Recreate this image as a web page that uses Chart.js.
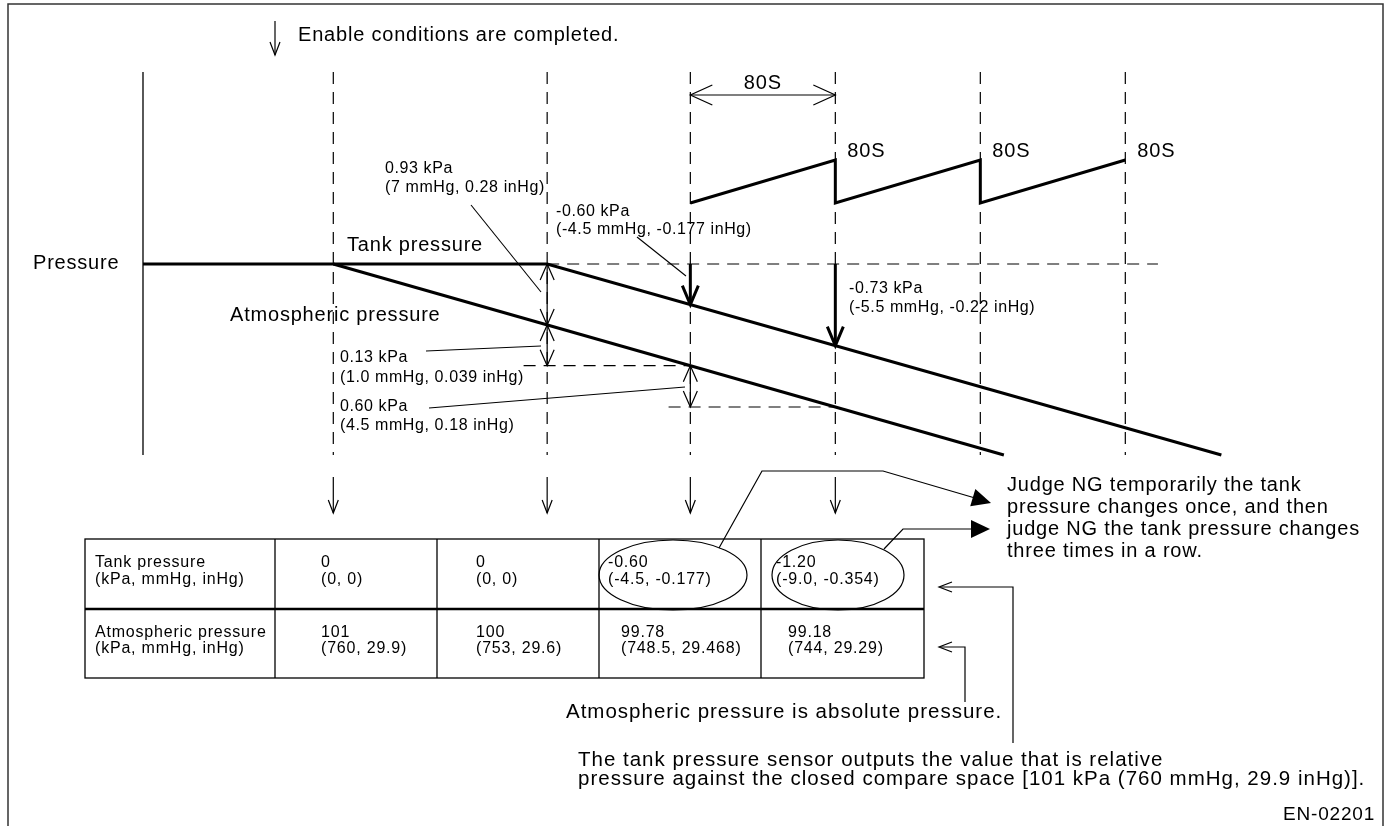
<!DOCTYPE html>
<html>
<head>
<meta charset="utf-8">
<script src="https://cdn.jsdelivr.net/npm/chart.js@4.4.1/dist/chart.umd.min.js"></script>
<style>
  html, body { margin: 0; padding: 0; background: #fff; }
  canvas { display: block; }
</style>
</head>
<body>
<canvas id="diagram" width="1393" height="826"></canvas>
<script>
// x = time (s), y = pressure in diagram units (0 = starting pressure)
const eventTimes = [105, 223, 302, 382, 462, 542];
const tankTimes = [0, 223, 595];
const tankLevels = [0, 0, -19.1];
const atmTimes = [105, 475];
const atmLevels = [0, -19.1];
const sawTimes = [302, 382, 382, 462, 462, 542];
const sawLevels = [6.1, 10.4, 6.1, 10.4, 6.1, 10.4];
const guideTop = 19.2;
const guideBottom = -19.1;
const refLevelEnd = 560;

// table
const rowLabels = ['Tank pressure', 'Atmospheric pressure'];
const unitLabel = '(kPa, mmHg, inHg)';
const tankKpa = ['0', '0', '-0.60', '-1.20'];
const tankOther = ['(0, 0)', '(0, 0)', '(-4.5, -0.177)', '(-9.0, -0.354)'];
const atmKpa = ['101', '100', '99.78', '99.18'];
const atmOther = ['(760, 29.9)', '(753, 29.6)', '(748.5, 29.468)', '(744, 29.29)'];

const FONT = '"Liberation Sans", Arial, Helvetica, sans-serif';

function levelAt(times, levels, t) {
    for (let i = 0; i < times.length - 1; i++) {
        if (t >= times[i] && t <= times[i + 1]) {
            const f = (t - times[i]) / (times[i + 1] - times[i]);
            return levels[i] + f * (levels[i + 1] - levels[i]);
        }
    }
    return levels[levels.length - 1];
}
const tankAt = t => levelAt(tankTimes, tankLevels, t);
const atmAt = t => levelAt(atmTimes, atmLevels, t);

const pts = (ts, vs) => ts.map((t, i) => ({ x: t, y: vs[i] }));
const solid = (data, w) => ({
    data, borderColor: '#000', borderWidth: w, showLine: true, pointRadius: 0,
    borderJoinStyle: 'miter', borderCapStyle: 'butt', tension: 0
});
const dashed = data => ({
    data, borderColor: '#000', borderWidth: 1.2, borderDash: [12, 8], showLine: true, pointRadius: 0
});

const datasets = [
    solid(pts([0, 0], [guideTop, guideBottom]), 1.3),
    ...eventTimes.map(t => dashed(pts([t, t], [guideTop, guideBottom]))),
    dashed(pts([223, refLevelEnd], [0, 0])),
    dashed(pts([210, 302], [atmAt(302), atmAt(302)])),
    dashed(pts([290, 382], [atmAt(382), atmAt(382)])),
    solid(pts(atmTimes, atmLevels), 3),
    solid(pts(tankTimes, tankLevels), 3),
    solid(pts(sawTimes, sawLevels), 3)
];

// drawing helpers
function line(ctx, x1, y1, x2, y2, w) {
    ctx.lineWidth = w || 1.2;
    ctx.beginPath();
    ctx.moveTo(x1, y1);
    ctx.lineTo(x2, y2);
    ctx.stroke();
}
function poly(ctx, p, w) {
    ctx.lineWidth = w || 1.2;
    ctx.beginPath();
    ctx.moveTo(p[0][0], p[0][1]);
    for (let i = 1; i < p.length; i++) ctx.lineTo(p[i][0], p[i][1]);
    ctx.stroke();
}
// open V head at (x, y) pointing along angle a
function head(ctx, x, y, a, len, spread, w) {
    const back = a + Math.PI;
    const h = Math.atan2(spread, len);
    const l = Math.hypot(len, spread);
    ctx.lineWidth = w || 1.2;
    ctx.beginPath();
    ctx.moveTo(x + l * Math.cos(back - h), y + l * Math.sin(back - h));
    ctx.lineTo(x, y);
    ctx.lineTo(x + l * Math.cos(back + h), y + l * Math.sin(back + h));
    ctx.stroke();
}
function solidHead(ctx, x, y, a, len, spread) {
    const back = a + Math.PI;
    const h = Math.atan2(spread, len);
    const l = Math.hypot(len, spread);
    ctx.beginPath();
    ctx.moveTo(x, y);
    ctx.lineTo(x + l * Math.cos(back - h), y + l * Math.sin(back - h));
    ctx.lineTo(x + l * Math.cos(back + h), y + l * Math.sin(back + h));
    ctx.closePath();
    ctx.fill();
}
function arrow(ctx, x1, y1, x2, y2, len, spread, w) {
    line(ctx, x1, y1, x2, y2, w);
    head(ctx, x2, y2, Math.atan2(y2 - y1, x2 - x1), len, spread, w);
}
function dblArrow(ctx, x1, y1, x2, y2, len, spread, w) {
    line(ctx, x1, y1, x2, y2, w);
    const a = Math.atan2(y2 - y1, x2 - x1);
    head(ctx, x2, y2, a, len, spread, w);
    head(ctx, x1, y1, a + Math.PI, len, spread, w);
}
function text(ctx, s, x, y, size, align, spacing) {
    ctx.font = size + 'px ' + FONT;
    ctx.textAlign = align || 'left';
    ctx.textBaseline = 'middle';
    if ('letterSpacing' in ctx) ctx.letterSpacing = (spacing === undefined ? 0.8 : spacing) + 'px';
    ctx.fillText(s, x, y);
}

const annotations = {
    id: 'annotations',
    afterDraw(chart) {
        const ctx = chart.ctx;
        const X = t => chart.scales.x.getPixelForValue(t);
        const Y = v => chart.scales.y.getPixelForValue(v);
        ctx.save();
        ctx.fillStyle = '#000';
        ctx.lineCap = 'butt';

        // frame
        ctx.strokeStyle = '#333';
        poly(ctx, [[8, 826], [8, 4], [1383, 4], [1383, 826]], 1.5);
        ctx.strokeStyle = '#000';

        // enable marker
        arrow(ctx, 275, 21, 275, 55, 13, 5, 1.2);
        text(ctx, 'Enable conditions are completed.', 298, 35, 20);

        // 80 s span
        const yDim = 95;
        dblArrow(ctx, X(eventTimes[2]), yDim, X(eventTimes[3]), yDim, 22, 10, 1.2);
        text(ctx, '80S', (X(eventTimes[2]) + X(eventTimes[3])) / 2, 83, 20, 'center');
        for (let i = 1; i < sawTimes.length; i += 2) {
            text(ctx, '80S', X(sawTimes[i]) + 12, Y(sawLevels[i]) - 9, 20);
        }

        // tank pressure drops
        [eventTimes[2], eventTimes[3]].forEach(t => {
            arrow(ctx, X(t), Y(0), X(t), Y(tankAt(t)), 19, 8, 3);
        });

        // gaps between tank and atmospheric level
        dblArrow(ctx, X(eventTimes[1]), Y(0), X(eventTimes[1]), Y(atmAt(eventTimes[1])), 16, 7, 1.2);
        dblArrow(ctx, X(eventTimes[1]), Y(atmAt(eventTimes[1])), X(eventTimes[1]), Y(atmAt(eventTimes[2])), 16, 7, 1.2);
        dblArrow(ctx, X(eventTimes[2]), Y(atmAt(eventTimes[2])), X(eventTimes[2]), Y(atmAt(eventTimes[3])), 16, 7, 1.2);

        // down arrows to the table
        eventTimes.slice(0, 4).forEach(t => arrow(ctx, X(t), 477, X(t), 513, 13, 5, 1.2));

        // labels
        text(ctx, 'Pressure', 33, 263, 20);
        text(ctx, 'Tank pressure', 347, 245, 20);
        text(ctx, 'Atmospheric pressure', 230, 315, 20);

        const sm = 16, ss = 0.6;
        text(ctx, '0.93 kPa', 385, 169, sm, 'left', ss);
        text(ctx, '(7 mmHg, 0.28 inHg)', 385, 188, sm, 'left', ss);
        line(ctx, 471, 205, 541, 292, 1.1);

        text(ctx, '-0.60 kPa', 556, 212, sm, 'left', ss);
        text(ctx, '(-4.5 mmHg, -0.177 inHg)', 556, 230, sm, 'left', ss);
        line(ctx, 637, 237, 686, 276, 1.1);

        text(ctx, '-0.73 kPa', 849, 289, sm, 'left', ss);
        text(ctx, '(-5.5 mmHg, -0.22 inHg)', 849, 308, sm, 'left', ss);

        text(ctx, '0.13 kPa', 340, 358, sm, 'left', ss);
        text(ctx, '(1.0 mmHg, 0.039 inHg)', 340, 378, sm, 'left', ss);
        line(ctx, 426, 351, 541, 346, 1.1);

        text(ctx, '0.60 kPa', 340, 407, sm, 'left', ss);
        text(ctx, '(4.5 mmHg, 0.18 inHg)', 340, 426, sm, 'left', ss);
        line(ctx, 429, 408, 685, 387, 1.1);

        // table
        const tL = 85, tR = 924, tT = 539, tM = 609, tB = 678;
        const cols = [275, 437, 599, 761];
        ctx.lineWidth = 1.3;
        ctx.strokeRect(tL, tT, tR - tL, tB - tT);
        cols.forEach(c => line(ctx, c, tT, c, tB, 1.3));
        line(ctx, tL, tM, tR, tM, 2.6);

        const ts = 16;
        text(ctx, rowLabels[0], 95, 563, ts);
        text(ctx, unitLabel, 95, 580, ts);
        text(ctx, rowLabels[1], 95, 633, ts);
        text(ctx, unitLabel, 95, 649, ts);
        const row1X = [321, 476, 608, 776];
        const row2X = [321, 476, 621, 788];
        tankKpa.forEach((s, i) => {
            text(ctx, s, row1X[i], 563, ts);
            text(ctx, tankOther[i], row1X[i], 580, ts);
        });
        atmKpa.forEach((s, i) => {
            text(ctx, s, row2X[i], 633, ts);
            text(ctx, atmOther[i], row2X[i], 649, ts);
        });

        // circled values
        ctx.lineWidth = 1.2;
        ctx.beginPath();
        ctx.ellipse(673, 575, 74, 35, 0, 0, Math.PI * 2);
        ctx.stroke();
        ctx.beginPath();
        ctx.ellipse(838, 575, 66, 35, 0, 0, Math.PI * 2);
        ctx.stroke();

        // judge leaders
        poly(ctx, [[719, 548], [762, 471], [883, 471], [975, 498]], 1.2);
        solidHead(ctx, 991, 503, Math.atan2(32, 108), 19, 9);
        poly(ctx, [[884, 549], [903, 529], [975, 529]], 1.2);
        solidHead(ctx, 990, 529, 0, 19, 9);

        text(ctx, 'Judge NG temporarily the tank', 1007, 485, 20);
        text(ctx, 'pressure changes once, and then', 1007, 507, 20);
        text(ctx, 'judge NG the tank pressure changes', 1007, 529, 20);
        text(ctx, 'three times in a row.', 1007, 551, 20);

        // notes
        poly(ctx, [[1013, 743], [1013, 587], [940, 587]], 1.2);
        head(ctx, 939, 587, Math.PI, 13, 5, 1.2);
        poly(ctx, [[965, 702], [965, 647], [940, 647]], 1.2);
        head(ctx, 939, 647, Math.PI, 13, 5, 1.2);

        const ns = 20.5, nsp = 1.0;
        text(ctx, 'Atmospheric pressure is absolute pressure.', 566, 712, ns, 'left', nsp);
        text(ctx, 'The tank pressure sensor outputs the value that is relative', 578, 760, ns, 'left', nsp);
        text(ctx, 'pressure against the closed compare space [101 kPa (760 mmHg, 29.9 inHg)].', 578, 779, ns, 'left', nsp);
        text(ctx, 'EN-02201', 1375, 815, 19, 'right', 0.8);

        ctx.restore();
    }
};

new Chart(document.getElementById('diagram').getContext('2d'), {
    type: 'scatter',
    data: { datasets },
    options: {
        responsive: false,
        animation: false,
        events: [],
        layout: { padding: 0 },
        plugins: { legend: { display: false }, tooltip: { enabled: false } },
        scales: {
            x: { type: 'linear', min: -78.9, max: 689.7, display: false },
            y: { type: 'linear', min: -56.2, max: 26.4, display: false }
        }
    },
    plugins: [annotations]
});
</script>
</body>
</html>
